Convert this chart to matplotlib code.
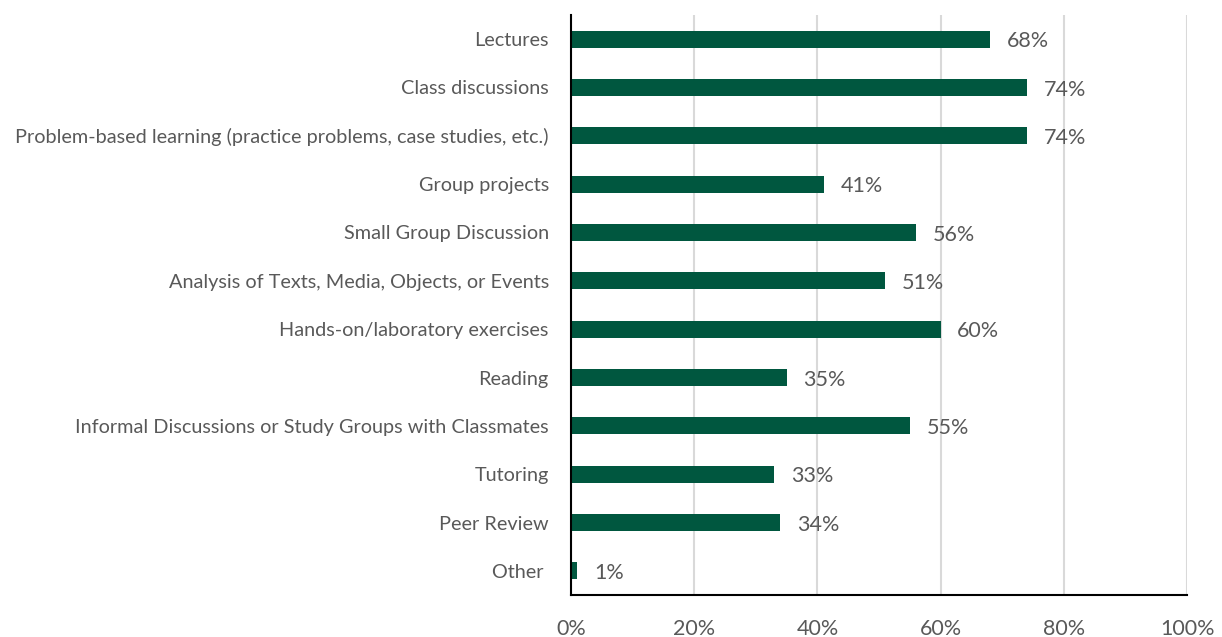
import matplotlib.pyplot as plt

# Survey: share of respondents selecting each learning activity
GREEN = '#00573f'
TEXT_GRAY = '#595959'
GRID_GRAY = '#d9d9d9'

categories = ['Lectures',
              'Class discussions',
              'Problem-based learning (practice problems, case studies, etc.)',
              'Group projects',
              'Small Group Discussion',
              'Analysis of Texts, Media, Objects, or Events',
              'Hands-on/laboratory exercises',
              'Reading',
              'Informal Discussions or Study Groups with Classmates',
              'Tutoring',
              'Peer Review',
              'Other ']
percents = [68, 74, 74, 41, 56, 51, 60, 35, 55, 33, 34, 1]
x_ticks = [0, 20, 40, 60, 80, 100]

plt.rcParams['font.family'] = ['Lato', 'DejaVu Sans']

fig = plt.figure(figsize=(12.22, 6.37), dpi=100)
ax = fig.add_axes([0.4673, 0.0659, 0.5041, 0.9106])

pos = list(range(len(categories)))
ax.barh(pos, percents, height=0.35, color=GREEN, zorder=3)

for y, v in zip(pos, percents):
    ax.annotate('%d%%' % v, (v, y), xytext=(12, -1.5), textcoords='offset points',
                va='center', ha='left', fontsize=15.5, color=TEXT_GRAY)

ax.set_xlim(0, 100)
ax.set_ylim(len(categories) - 0.5, -0.5)
ax.set_yticks(pos)
ax.set_yticklabels(categories, fontsize=14.3, color=TEXT_GRAY)
ax.set_xticks(x_ticks)
ax.set_xticklabels(['%d%%' % t for t in x_ticks], fontsize=15.5, color=TEXT_GRAY)
ax.tick_params(axis='y', length=0, pad=16)
ax.tick_params(axis='x', length=0, pad=17)

ax.grid(axis='x', color=GRID_GRAY, linewidth=1.5, zorder=0)
for side in ['top', 'right']:
    ax.spines[side].set_visible(False)
ax.spines['left'].set_linewidth(1.5)
ax.spines['bottom'].set_linewidth(1.5)
ax.spines['left'].set_zorder(4)

fig.savefig('out.png', dpi=100)
